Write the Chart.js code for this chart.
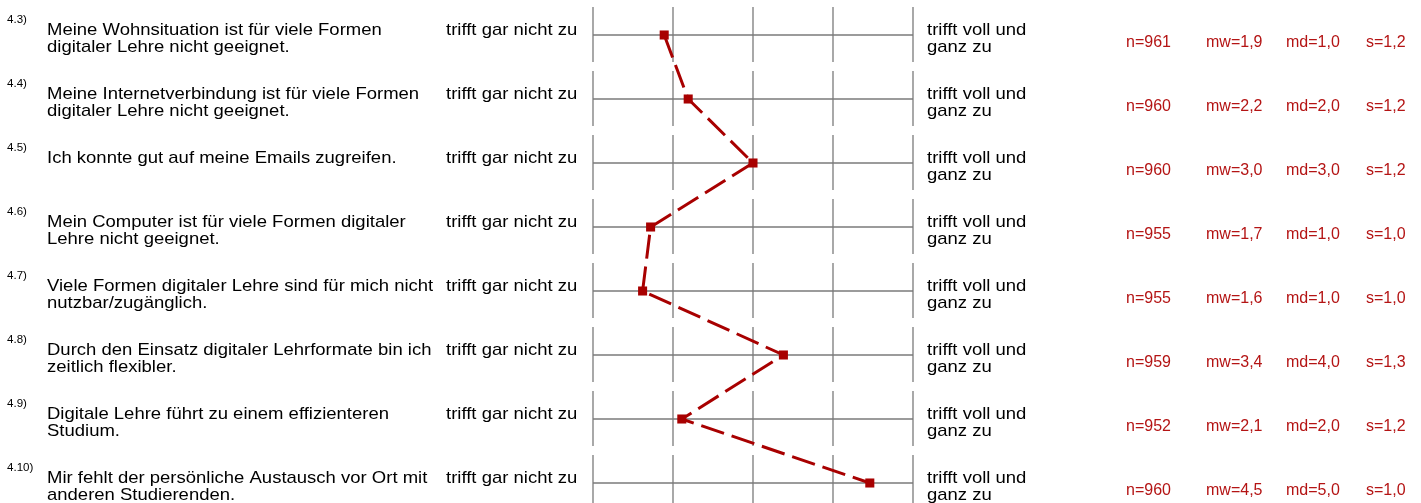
<!DOCTYPE html>
<html><head><meta charset="utf-8">
<script src="https://cdn.jsdelivr.net/npm/chart.js@4.4.1/dist/chart.umd.min.js"></script>
<style>html,body{margin:0;padding:0;background:#fff;}#wrap{width:1421px;height:503px;position:relative;}</style>
</head><body><div id="wrap"><canvas id="c"></canvas></div>
<script>
const itemNumbers = ['4.3)', '4.4)', '4.5)', '4.6)', '4.7)', '4.8)', '4.9)', '4.10)'];
const questions = [
  ['Meine Wohnsituation ist für viele Formen', 'digitaler Lehre nicht geeignet.'],
  ['Meine Internetverbindung ist für viele Formen', 'digitaler Lehre nicht geeignet.'],
  ['Ich konnte gut auf meine Emails zugreifen.'],
  ['Mein Computer ist für viele Formen digitaler', 'Lehre nicht geeignet.'],
  ['Viele Formen digitaler Lehre sind für mich nicht', 'nutzbar/zugänglich.'],
  ['Durch den Einsatz digitaler Lehrformate bin ich', 'zeitlich flexibler.'],
  ['Digitale Lehre führt zu einem effizienteren', 'Studium.'],
  ['Mir fehlt der persönliche Austausch vor Ort mit', 'anderen Studierenden.']
];
const leftPole = 'trifft gar nicht zu';
const rightPole = ['trifft voll und', 'ganz zu'];
const scaleTicks = [1, 2, 3, 4, 5];
const means = [1.89, 2.19, 3.0, 1.72, 1.62, 3.38, 2.11, 4.46];
const nValues = [961, 960, 960, 955, 955, 959, 952, 960];
const medians = [1.0, 2.0, 3.0, 1.0, 1.0, 4.0, 2.0, 5.0];
const stdDevs = [1.2, 1.2, 1.2, 1.0, 1.0, 1.3, 1.2, 1.0];

const RED = '#a80000';
const STAT_RED = '#b41414';
const GRID = '#7a7a7a';
const FONT = '"Liberation Sans", Arial, Helvetica, sans-serif';
const de = v => v.toFixed(1).replace('.', ',');

function wideText(ctx, text, x, y, sx) {
  ctx.save();
  ctx.translate(x, y);
  ctx.scale(sx, 1);
  ctx.fillText(text, 0, 0);
  ctx.restore();
}

const profilePlugin = {
  id: 'profile',
  beforeDatasetsDraw(chart) {
    const { ctx, scales: { x, y } } = chart;
    ctx.save();
    ctx.strokeStyle = GRID;
    ctx.lineWidth = 1.3;
    itemNumbers.forEach((_, i) => {
      const cy = y.getPixelForValue(i);
      ctx.beginPath();
      ctx.moveTo(x.getPixelForValue(scaleTicks[0]), cy);
      ctx.lineTo(x.getPixelForValue(scaleTicks[scaleTicks.length - 1]), cy);
      ctx.stroke();
      scaleTicks.forEach(t => {
        const px = x.getPixelForValue(t);
        ctx.beginPath();
        ctx.moveTo(px, cy - 28);
        ctx.lineTo(px, cy + 27);
        ctx.stroke();
      });
    });
    ctx.restore();
  },
  afterDraw(chart) {
    const { ctx, scales: { x, y } } = chart;
    ctx.save();
    ctx.textBaseline = 'alphabetic';
    ctx.textAlign = 'left';
    const x5 = x.getPixelForValue(scaleTicks[scaleTicks.length - 1]);
    const SX = 1.088;
    itemNumbers.forEach((num, i) => {
      const cy = y.getPixelForValue(i);
      ctx.fillStyle = '#000';
      ctx.font = '11px ' + FONT;
      wideText(ctx, num, 7, cy - 12, 1.05);
      ctx.font = '17px ' + FONT;
      questions[i].forEach((line, k) => wideText(ctx, line, 47, cy + k * 16.5, SX));
      wideText(ctx, leftPole, 446, cy, SX);
      rightPole.forEach((line, k) => wideText(ctx, line, x5 + 14, cy + k * 16.5, SX));
      ctx.fillStyle = STAT_RED;
      ctx.font = '16px ' + FONT;
      ctx.fillText('n=' + nValues[i], 1126, cy + 12);
      ctx.fillText('mw=' + de(means[i]), 1206, cy + 12);
      ctx.fillText('md=' + de(medians[i]), 1286, cy + 12);
      ctx.fillText('s=' + de(stdDevs[i]), 1366, cy + 12);
    });
    ctx.restore();
  }
};

new Chart(document.getElementById('c'), {
  type: 'line',
  data: {
    labels: itemNumbers,
    datasets: [{
      data: means,
      borderColor: RED,
      backgroundColor: RED,
      borderWidth: 3,
      borderDash: [24, 8],
      tension: 0,
      pointStyle: 'rect',
      pointRadius: 6.4,
      pointHoverRadius: 6.4,
      pointBackgroundColor: RED,
      pointBorderWidth: 0,
      clip: false
    }]
  },
  options: {
    indexAxis: 'y',
    responsive: true,
    maintainAspectRatio: false,
    animation: false,
    events: [],
    layout: { padding: { left: 593, right: 508, top: 35, bottom: 20 } },
    scales: {
      x: { type: 'linear', min: 1, max: 5, display: false },
      y: { type: 'category', offset: false, display: false }
    },
    plugins: { legend: { display: false }, tooltip: { enabled: false } }
  },
  plugins: [profilePlugin]
});
</script>
</body></html>
